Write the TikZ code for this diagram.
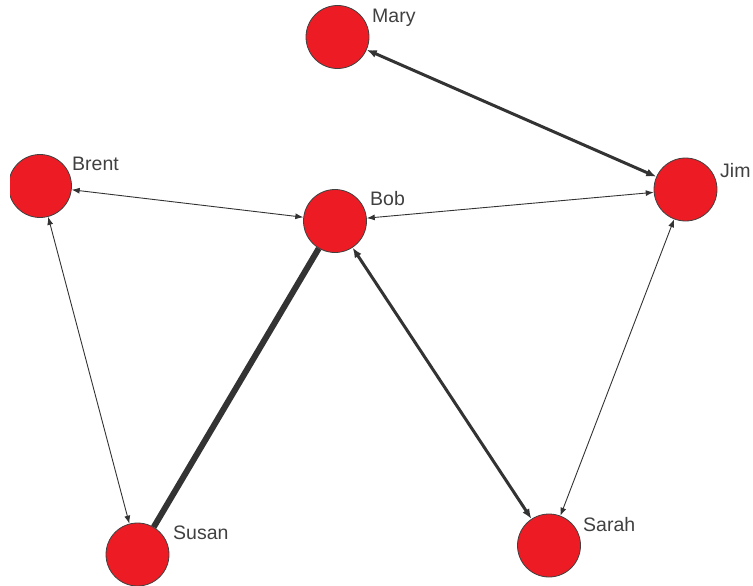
\documentclass[tikz,border=0pt]{standalone}
\usepackage{fontspec}
\setmainfont{Liberation Sans}
\usetikzlibrary{arrows.meta}
\definecolor{nodered}{RGB}{237,28,36}
\definecolor{edgegray}{RGB}{51,51,51}
\definecolor{txtgray}{RGB}{64,64,64}
\tikzset{
  person/.style={circle, minimum size=63pt, inner sep=0pt, fill=nodered, draw=txtgray, line width=0.8pt},
  lbl/.style={anchor=base west, inner sep=0pt, text=txtgray, font=\fontsize{19.5}{20}\selectfont},
  thinedge/.style={draw=edgegray, line width=0.9pt, {Latex[length=8pt,width=6pt]}-{Latex[length=8pt,width=6pt]}},
  midedge/.style={draw=edgegray, line width=3pt, {Latex[length=10pt,width=8pt]}-{Latex[length=10pt,width=8pt]}},
  fatedge/.style={draw=edgegray, line width=6pt}
}
\begin{document}
\begin{tikzpicture}[x=1pt,y=-1pt]
\useasboundingbox (0,0) rectangle (753,586);
\begin{scope}
\clip (10,0) rectangle (753,586);
\node[person] (mary)  at (337.5,37) {};
\node[person] (brent) at (40,186) {};
\node[person] (bob)   at (335,221) {};
\node[person] (jim)   at (685.5,189.5) {};
\node[person] (susan) at (137.5,554.5) {};
\node[person] (sarah) at (549,545.5) {};
\end{scope}
\node[lbl] (lmary)  at (372,23) {Mary};
\node[lbl] (lbrent) at (72,170) {Brent};
\node[lbl] (ljim)   at (720,177) {Jim};
\node[lbl] (lbob)   at (370,205) {Bob};
\node[lbl] (lsusan) at (173,539) {Susan};
\node[lbl] (lsarah) at (583,531) {Sarah};
\draw[midedge] (mary) -- (jim);
\draw[thinedge] (brent) -- (bob);
\draw[thinedge] (bob) -- (jim);
\draw[thinedge] (brent) -- (susan);
\draw[thinedge] (jim) -- (sarah);
\draw[midedge] (bob) -- (sarah);
\draw[fatedge] (susan) -- (bob);
\end{tikzpicture}
\end{document}
